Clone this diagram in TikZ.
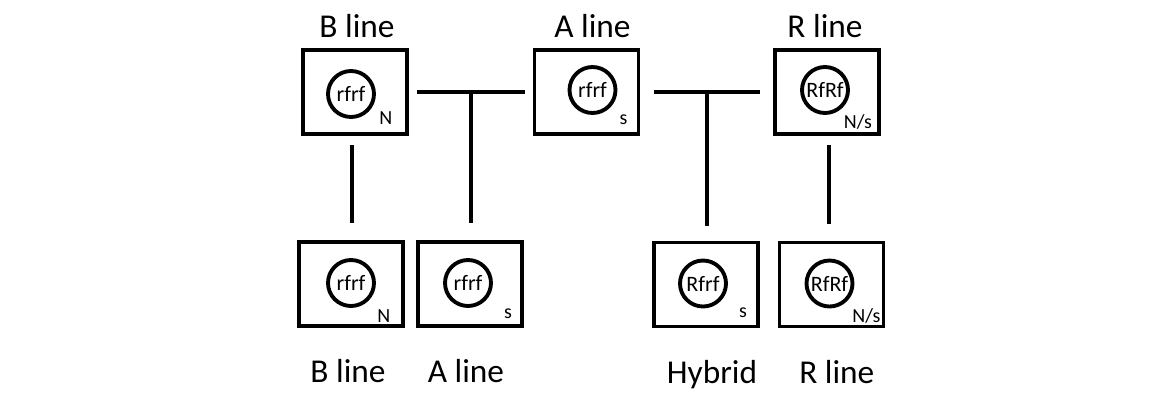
\documentclass[tikz,border=0pt]{standalone}
\usepackage{fontspec}
\setmainfont{Carlito}
\usepackage{tikz}
\usetikzlibrary{positioning,calc}

\tikzset{
  linebox/.style={draw, line width=2.9pt, minimum width=78pt, minimum height=63pt, inner sep=0pt},
  geno/.style={draw, circle, line width=2.9pt, minimum size=34.5pt, inner sep=0pt, font=\fontsize{16.5}{18}\selectfont},
  tag/.style={inner sep=0pt, font=\fontsize{15}{17}\selectfont},
  title/.style={anchor=base, inner sep=0pt, font=\fontsize{25}{28}\selectfont},
  link/.style={line width=3.3pt},
}

\begin{document}
\begin{tikzpicture}[x=0.75pt, y=-0.75pt]
\useasboundingbox (0,0) rectangle (1167,419);

% parent lines
\node[linebox] (Bt) at (355,92) {};
\node[linebox] (At) at (586.5,92) {};
\node[linebox] (Rt) at (827,92) {};
\node[geno] (cBt) at ([shift={(-4,2)}]Bt) {rfrf};
\node[geno] (cAt) at ([shift={(6,-2)}]At) {rfrf};
\node[geno] (cRt) at ([shift={(-2,-2)}]Rt) {RfRf};
\node[tag] (nBt) at ([shift={(-23,-18)}]Bt.south east) {N};
\node[tag] (nAt) at ([shift={(-17,-16)}]At.south east) {s};
\node[tag] (nRt) at ([shift={(-23,-14)}]Rt.south east) {N/s};
\node[title] (lBt) at ([xshift=1.5pt, yshift=8.25pt]Bt.north) {B line};
\node[title] (lAt) at ([xshift=4.5pt, yshift=8.25pt]At.north) {A line};
\node[title] (lRt) at ([xshift=-1.5pt, yshift=8.25pt]Rt.north) {R line};

% offspring
\node[linebox] (Bb) at (351,284) {};
\node[linebox] (Ab) at (470,284) {};
\node[linebox] (Hb) at (706,284.5) {};
\node[linebox] (Rb) at (831.5,284.5) {};
\node[geno] (cBb) at ([shift={(0,-1)}]Bb) {rfrf};
\node[geno] (cAb) at ([shift={(-2,-1)}]Ab) {rfrf};
\node[geno] (cHb) at ([shift={(-3,-1)}]Hb) {Rfrf};
\node[geno] (cRb) at ([shift={(-2,-1)}]Rb) {RfRf};
\node[tag] (nBb) at ([shift={(-21,-12)}]Bb.south east) {N};
\node[tag] (nAb) at ([shift={(-16,-14)}]Ab.south east) {s};
\node[tag] (nHb) at ([shift={(-17,-16)}]Hb.south east) {s};
\node[tag] (nRb) at ([shift={(-19,-12)}]Rb.south east) {N/s};
\node[title] (lBb) at ([xshift=-2.25pt, yshift=-41.25pt]Bb.south) {B line};
\node[title] (lAb) at ([xshift=-3pt, yshift=-41.25pt]Ab.south) {A line};
\node[title] (lHb) at ([xshift=4.5pt, yshift=-41.25pt]Hb.south) {Hybrid};
\node[title] (lRb) at ([xshift=4pt, yshift=-41.25pt]Rb.south) {R line};

% crosses
\coordinate (jBA) at ($(Bt.east)!0.5!(At.west)$);
\coordinate (jAR) at ($(At.east)!0.5!(Rt.west)$);
\draw[link, shorten <=6pt, shorten >=6pt] (Bt) -- (At);
\draw[link, shorten <=10pt, shorten >=10pt] (At) -- (Rt);
\draw[link, shorten >=12.75pt] (jBA) -- (jBA |- Ab.north);
\draw[link, shorten >=11.25pt] (jAR) -- (jAR |- Hb.north);
\draw[link, shorten <=6.75pt, shorten >=12.75pt] ([xshift=-2.25pt]Bt.south) -- ([xshift=-2.25pt]Bt.south |- Bb.north);
\draw[link, shorten <=6.75pt, shorten >=12.75pt] ([xshift=1.5pt]Rt.south) -- ([xshift=1.5pt]Rt.south |- Rb.north);
\end{tikzpicture}
\end{document}
